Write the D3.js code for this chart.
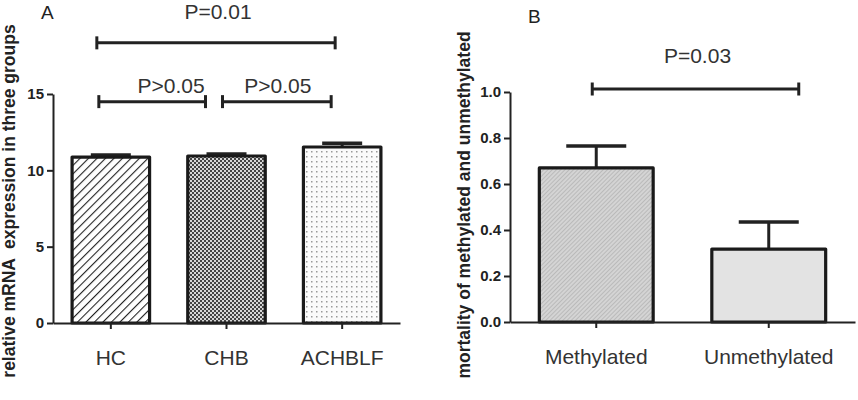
<!DOCTYPE html>
<html>
<head>
<meta charset="utf-8">
<script src="https://cdn.jsdelivr.net/npm/d3@7"></script>
<style>
    body { margin: 0; background: #fff; }
    svg { display: block; font-family: "Liberation Sans", Arial, sans-serif; }
</style>
</head>
<body>
<svg id="chart" width="858" height="400"></svg>
<script>
// panel A: relative mRNA expression
const groupsA = ['HC', 'CHB', 'ACHBLF'];
const meansA = [10.87, 10.94, 11.53];
const errorsA = [0.13, 0.13, 0.25];
const ticksA = [0, 5, 10, 15];
// significance brackets, level in data units
const bracketsA = [
    {from: 'HC', to: 'ACHBLF', level: 18.35, label: 'P=0.01'},
    {from: 'HC', to: 'CHB', level: 14.5, label: 'P>0.05'},
    {from: 'CHB', to: 'ACHBLF', level: 14.5, label: 'P>0.05'}
];

// panel B: mortality
const groupsB = ['Methylated', 'Unmethylated'];
const meansB = [0.67, 0.317];
const errorsB = [0.095, 0.118];
const ticksB = [0, 0.2, 0.4, 0.6, 0.8, 1.0];
const bracketsB = [
    {from: 'Methylated', to: 'Unmethylated', level: 1.013, label: 'P=0.03'}
];

const svg = d3.select('#chart');
const defs = svg.append('defs');

// fill patterns
let p = defs.append('pattern').attr('id', 'hatch').attr('patternUnits', 'userSpaceOnUse')
    .attr('width', 6).attr('height', 6).attr('patternTransform', 'rotate(45)');
p.append('rect').attr('width', 6).attr('height', 6).attr('fill', '#fff');
p.append('line').attr('x1', 0).attr('y1', 0).attr('x2', 0).attr('y2', 6)
    .attr('stroke', '#222').attr('stroke-width', 2.2);

p = defs.append('pattern').attr('id', 'checker').attr('patternUnits', 'userSpaceOnUse')
    .attr('width', 4).attr('height', 4);
p.append('rect').attr('width', 4).attr('height', 4).attr('fill', '#d8d8d8');
p.append('rect').attr('width', 2).attr('height', 2).attr('fill', '#444');
p.append('rect').attr('x', 2).attr('y', 2).attr('width', 2).attr('height', 2).attr('fill', '#444');

p = defs.append('pattern').attr('id', 'dots').attr('patternUnits', 'userSpaceOnUse')
    .attr('width', 5).attr('height', 5);
p.append('rect').attr('width', 5).attr('height', 5).attr('fill', '#fbfbfb');
p.append('rect').attr('x', 1).attr('y', 1).attr('width', 1.5).attr('height', 1.5).attr('fill', '#9a9a9a');

p = defs.append('pattern').attr('id', 'fine').attr('patternUnits', 'userSpaceOnUse')
    .attr('width', 3).attr('height', 3).attr('patternTransform', 'rotate(45)');
p.append('rect').attr('width', 3).attr('height', 3).attr('fill', '#d4d4d4');
p.append('line').attr('x1', 0).attr('y1', 0).attr('x2', 0).attr('y2', 3)
    .attr('stroke', '#a0a0a0').attr('stroke-width', 1);

function drawPanel(cfg) {
    let g = svg.append('g');

    let x = d3.scaleBand().domain(cfg.groups).range(cfg.xRange)
        .paddingInner(cfg.padInner).paddingOuter(cfg.padInner / 2);
    let y = d3.scaleLinear().domain([0, cfg.ticks[cfg.ticks.length - 1]]).range(cfg.yRange);
    let cx = d => x(d) + x.bandwidth() / 2;

    // error bars
    cfg.groups.forEach((grp, i) => {
        let top = y(cfg.means[i] + cfg.errors[i]);
        let capW = cfg.capWidth;
        g.append('line').attr('x1', cx(grp)).attr('x2', cx(grp))
            .attr('y1', y(cfg.means[i])).attr('y2', top)
            .attr('stroke', '#222').attr('stroke-width', 3);
        g.append('line').attr('x1', cx(grp) - capW / 2).attr('x2', cx(grp) + capW / 2)
            .attr('y1', top).attr('y2', top)
            .attr('stroke', '#222').attr('stroke-width', 3.5);
    });

    // bars
    g.selectAll('rect.bar').data(cfg.groups).enter().append('rect')
        .attr('class', 'bar')
        .attr('x', d => x(d))
        .attr('y', (d, i) => y(cfg.means[i]))
        .attr('width', x.bandwidth())
        .attr('height', (d, i) => y(0) - y(cfg.means[i]))
        .attr('fill', (d, i) => cfg.fills[i])
        .attr('stroke', '#1a1a1a')
        .attr('stroke-width', 3.2)
        .attr('stroke-linejoin', 'round');

    // y axis
    let yAxis = g.append('g').attr('transform', `translate(${cfg.xRange[0]},0)`)
        .call(d3.axisLeft(y).tickValues(cfg.ticks).tickFormat(cfg.tickFormat)
            .tickSize(6).tickSizeOuter(0).tickPadding(3));
    yAxis.select('.domain').attr('stroke', '#222').attr('stroke-width', 2);
    yAxis.selectAll('.tick line').attr('stroke', '#222').attr('stroke-width', 2);
    yAxis.selectAll('.tick text').attr('font-size', 15).attr('font-weight', 'bold')
        .attr('fill', '#222').attr('font-family', null);

    // x axis
    let xAxis = g.append('g').attr('transform', `translate(0,${y(0)})`)
        .call(d3.axisBottom(x).tickSize(6).tickSizeOuter(0).tickPadding(21));
    xAxis.select('.domain').attr('stroke', '#222').attr('stroke-width', 2);
    xAxis.selectAll('.tick line').attr('stroke', '#222').attr('stroke-width', 2);
    xAxis.selectAll('.tick text').attr('font-size', 21).attr('fill', '#333')
        .attr('font-family', null);

    // y label
    g.append('text')
        .attr('transform', `translate(${cfg.yLabelX},${cfg.yLabelY}) rotate(-90)`)
        .attr('text-anchor', 'middle')
        .attr('font-size', 17.5).attr('font-weight', 'bold').attr('fill', '#222')
        .style('white-space', 'pre')
        .text(cfg.yLabel);

    // panel letter
    g.append('text').attr('x', cfg.letterX).attr('y', cfg.letterY)
        .attr('font-size', 19).attr('fill', '#222').text(cfg.letter);

    // significance brackets
    cfg.brackets.forEach((b, i) => {
        let st = cfg.bracketStyle[i];
        let x1 = cx(b.from) + st.left;
        let x2 = cx(b.to) + st.right;
        let yy = y(b.level);
        g.append('line').attr('x1', x1).attr('x2', x2).attr('y1', yy).attr('y2', yy)
            .attr('stroke', '#222').attr('stroke-width', 3);
        [x1, x2].forEach(xe => {
            g.append('line').attr('x1', xe).attr('x2', xe)
                .attr('y1', yy - 6.5).attr('y2', yy + 6.5)
                .attr('stroke', '#222').attr('stroke-width', 3);
        });
        g.append('text').attr('x', (x1 + x2) / 2 + st.dx).attr('y', yy - st.gap)
            .attr('text-anchor', 'middle').attr('font-size', 21).attr('fill', '#333')
            .text(b.label);
    });
}

drawPanel({
    groups: groupsA, means: meansA, errors: errorsA, ticks: ticksA,
    tickFormat: d3.format('d'),
    fills: ['url(#hatch)', 'url(#checker)', 'url(#dots)'],
    xRange: [53, 400], yRange: [323, 94], padInner: 0.33, capWidth: 40,
    yLabel: 'relative mRNA  expression in three groups', yLabelX: 15, yLabelY: 201,
    letter: 'A', letterX: 41, letterY: 19,
    brackets: bracketsA,
    bracketStyle: [
        {left: -14, right: -7, dx: 2, gap: 24},
        {left: -12, right: -21, dx: 19, gap: 9},
        {left: -4, right: -11, dx: 1, gap: 9}
    ]
});

drawPanel({
    groups: groupsB, means: meansB, errors: errorsB, ticks: ticksB,
    tickFormat: d3.format('.1f'),
    fills: ['url(#fine)', '#e3e3e3'],
    xRange: [510, 855], yRange: [322, 92], padInner: 0.34, capWidth: 60,
    yLabel: 'mortality of methylated and unmethylated', yLabelX: 470, yLabelY: 205,
    letter: 'B', letterX: 528, letterY: 23,
    brackets: bracketsB,
    bracketStyle: [
        {left: -4, right: 30, dx: 2, gap: 26}
    ]
});
</script>
</body>
</html>
